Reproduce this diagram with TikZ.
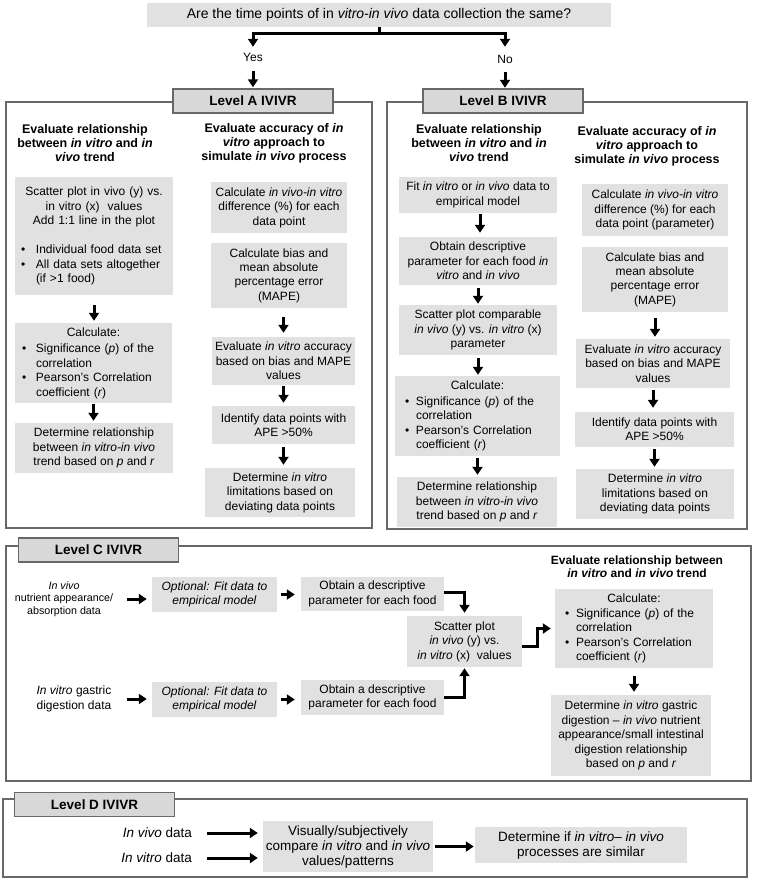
\documentclass[tikz,border=0pt]{standalone}
\usepackage{fontspec}
\setmainfont{Liberation Sans}
\usetikzlibrary{arrows.meta}
\definecolor{boxgray}{HTML}{E1E1E1}
\definecolor{titlegray}{HTML}{D8D8D8}
\definecolor{framegray}{HTML}{686868}
\newcommand{\myBody}{\fontsize{12}{14.4}\selectfont}
\newcommand{\myHead}{\bfseries\fontsize{12.5}{14}\selectfont}
\newcommand{\myHeadC}{\bfseries\fontsize{12}{13.5}\selectfont}
\newcommand{\myTitle}{\bfseries\fontsize{13.5}{16}\selectfont}
\newcommand{\myQ}{\fontsize{14}{16}\selectfont}
\newcommand{\mySmall}{\fontsize{10.7}{12.5}\selectfont}
\newcommand{\myD}{\fontsize{13.5}{15}\selectfont}
\newcommand{\myYN}{\fontsize{12}{13}\selectfont}
\newcommand{\mybul}[1][14pt]{\makebox[#1][l]{\textbullet}}
\newcommand{\myind}[1][14pt]{\hspace*{#1}}
\begin{document}
\begin{tikzpicture}[x=1pt,y=-1pt,
  box/.style={fill=boxgray, inner sep=0pt, align=center, font=\myBody},
  ttl/.style={fill=titlegray, draw=framegray, line width=1.4pt, inner sep=0pt, font=\myTitle, minimum width=160pt, minimum height=24pt},
  frm/.style={draw=framegray, line width=1.4pt},
  hd/.style={inner sep=0pt, align=center, font=\myHead},
  lbl/.style={inner sep=0pt, align=center},
  arr/.style={line width=3pt, -{Triangle[width=10pt,length=8pt]}},
]
\useasboundingbox (0,0) rectangle (756,880);

% ---------- top question ----------
\node[box, font=\myQ, minimum width=464pt, minimum height=24pt] (q) at (379,15)
  {Are the time points of in \textit{vitro-in vivo} data collection the same?};
\node[lbl, font=\myYN, text height=8.5pt, text depth=2.5pt] (yes) at (253,59) {Yes};
\node[lbl, font=\myYN, text height=8.5pt, text depth=2.5pt] (no) at (505,61) {No};

% ---------- frames ----------
\draw[frm] (6,102) rectangle (372,528);
\draw[frm] (387,102) rectangle (747,529);
\draw[frm] (6,546) rectangle (751,781);
\draw[frm] (3,799) rectangle (747,877);

\node[ttl] (ta) at (253,101) {Level A IVIVR};
\node[ttl] (tb) at (503,101) {Level B IVIVR};
\node[ttl] (tc) at (98.5,550) {Level C IVIVR};
\node[ttl] (td) at (94.5,804.5) {Level D IVIVR};

% ---------- branch ----------
\draw[arr, shorten >=6.5pt] (q.south) -- ++(0,6) -| (yes.north);
\draw[arr, shorten >=8.5pt] (q.south) -- ++(0,6) -| (no.north);
\draw[arr, shorten <=6pt, shorten >=1pt] (yes.south) -- (yes.south |- ta.north);
\draw[arr, shorten <=5pt, shorten >=0.5pt] (no.south) -- (no.south |- tb.north);

% ---------- Level A ----------
\node[hd] (ha1) at (85,143) {Evaluate relationship\\between \textit{in vitro} and \textit{in}\\\textit{vivo} trend};
\node[hd] (ha2) at (274,143) {Evaluate accuracy of \textit{in}\\\textit{vitro} approach to\\simulate \textit{in vivo} process};

\node[box, minimum width=158pt, minimum height=118pt, text width=158pt] (a1) at (94,236)
  {Scatter plot in vivo (y) vs.\\ in vitro (x)~ values\\ Add 1:1 line in the plot\par\vspace{15pt}
   {\raggedright\leftskip=6pt\relax
   \mybul[15pt]Individual food data set\\
   \mybul[15pt]All data sets altogether\\
   \myind[15pt](if >1 food)\par}\vspace{10pt}};
\node[box, minimum width=157pt, minimum height=80pt, text width=157pt] (a2) at (93.5,363)
  {Calculate:\par\vspace{2.5pt}
   {\raggedright\leftskip=7pt\relax
   \mybul Significance (\textit{p}) of the\\
   \myind correlation\\
   \mybul Pearson’s Correlation\\
   \myind coefficient (\textit{r})\par}};
\node[box, minimum width=158pt, minimum height=50pt] (a3) at (94,448)
  {Determine relationship\\between \textit{in vitro-in vivo}\\trend based on \textit{p} and \textit{r}};

\node[box, minimum width=136pt, minimum height=51pt] (ar1) at (279,207.5)
  {Calculate \textit{in vivo-in vitro}\\difference (\%) for each\\data point};
\node[box, minimum width=136pt, minimum height=65pt] (ar2) at (279,275.5)
  {Calculate bias and\\mean absolute\\percentage error\\(MAPE)};
\node[box, minimum width=143pt, minimum height=48pt] (ar3) at (283.5,361)
  {Evaluate \textit{in vitro} accuracy\\based on bias and MAPE\\values};
\node[box, minimum width=143pt, minimum height=38pt] (ar4) at (283.5,425)
  {Identify data points with\\APE >50\%};
\node[box, minimum width=150pt, minimum height=49pt] (ar5) at (280,492.5)
  {Determine \textit{in vitro}\\limitations based on\\deviating data points};

\draw[arr, shorten <=10pt, shorten >=2pt] (a1.south) -- (a1.south |- a2.north);
\draw[arr, shorten <=1pt, shorten >=2pt] (a2.south) -- (a2.south |- a3.north);
\draw[arr, shorten <=9pt, shorten >=4pt] (ar3.north |- ar2.south) -- (ar3.north);
\draw[arr, shorten <=1pt, shorten >=3pt] (ar3.south) -- (ar3.south |- ar4.north);
\draw[arr, shorten <=3pt, shorten >=3pt] (ar4.south) -- (ar4.south |- ar5.north);

% ---------- Level B ----------
\node[hd] (hb1) at (479,143) {Evaluate relationship\\between \textit{in vitro} and \textit{in}\\\textit{vivo} trend};
\node[hd] (hb2) at (647,146) {Evaluate accuracy of \textit{in}\\\textit{vitro} approach to\\simulate \textit{in vivo} process};

\node[box, minimum width=158pt, minimum height=36pt] (b1) at (478,195)
  {Fit \textit{in vitro} or \textit{in vivo} data to\\empirical model};
\node[box, minimum width=158pt, minimum height=48pt] (b2) at (478,261)
  {Obtain descriptive\\parameter for each food \textit{in}\\\textit{vitro} and \textit{in vivo}};
\node[box, minimum width=158pt, minimum height=50pt] (b3) at (478,330)
  {Scatter plot comparable\\\textit{in vivo} (y) vs. \textit{in vitro} (x)\\parameter};
\node[box, minimum width=165pt, minimum height=80pt, text width=165pt] (b4) at (477.5,416)
  {Calculate:\par\vspace{1.5pt}
   {\raggedright\leftskip=10pt\relax
   \mybul[11pt]Significance (\textit{p}) of the\\
   \myind[11pt]correlation\\
   \mybul[11pt]Pearson’s Correlation\\
   \myind[11pt]coefficient (\textit{r})\par}};
\node[box, minimum width=160pt, minimum height=50pt] (b5) at (477,502)
  {Determine relationship\\between \textit{in vitro-in vivo}\\trend based on \textit{p} and \textit{r}};

\node[box, minimum width=146pt, minimum height=52pt] (br1) at (655,210)
  {Calculate \textit{in vivo-in vitro}\\difference (\%) for each\\data point (parameter)};
\node[box, minimum width=146pt, minimum height=65pt] (br2) at (655,279.5)
  {Calculate bias and\\mean absolute\\percentage error\\(MAPE)};
\node[box, minimum width=154pt, minimum height=49pt] (br3) at (653,363.5)
  {Evaluate \textit{in vitro} accuracy\\based on bias and MAPE\\values};
\node[box, minimum width=159pt, minimum height=35pt] (br4) at (654.5,429.5)
  {Identify data points with\\APE >50\%};
\node[box, minimum width=158pt, minimum height=50pt] (br5) at (655,494)
  {Determine \textit{in vitro}\\limitations based on\\deviating data points};

\draw[arr, shorten <=1pt, shorten >=4pt] ([xshift=2pt]b1.south) -- ([xshift=2pt]b1.south |- b2.north);
\draw[arr, shorten <=3pt, shorten >=1pt] (b2.south) -- (b2.south |- b3.north);
\draw[arr, shorten <=3pt, shorten >=1pt] (b3.south) -- (b3.south |- b4.north);
\draw[arr, shorten <=2pt, shorten >=2pt] (b4.south) -- (b4.south |- b5.north);
\draw[arr, shorten <=6pt, shorten >=2pt] (br2.south) -- (br2.south |- br3.north);
\draw[arr, shorten <=2pt, shorten >=4pt] (br3.south) -- (br3.south |- br4.north);
\draw[arr, shorten <=2pt, shorten >=2pt] (br4.south) -- (br4.south |- br5.north);

% ---------- Level C ----------
\node[lbl, font=\mySmall] (cin1) at (64,599) {\textit{In vivo}\\nutrient appearance/\\absorption data};
\node[lbl, font=\myBody] (cin2) at (74,699) {\textit{In vitro} gastric\\digestion data};

\node[box, minimum width=125pt, minimum height=35pt] (c1) at (214.5,594.5)
  {\textit{Optional: Fit data to}\\\textit{empirical model}};
\node[box, minimum width=143pt, minimum height=34pt] (c2) at (372.5,594)
  {Obtain a descriptive\\parameter for each food};
\node[box, minimum width=125pt, minimum height=35pt] (c3) at (214.5,699.5)
  {\textit{Optional: Fit data to}\\\textit{empirical model}};
\node[box, minimum width=143pt, minimum height=35pt] (c4) at (372.5,697.5)
  {Obtain a descriptive\\parameter for each food};
\node[box, minimum width=115pt, minimum height=51pt] (cs) at (464.5,641.5)
  {Scatter plot\\\textit{in vivo} (y) vs.\\\textit{in vitro} (x)~ values};

\node[hd, font=\myHeadC] (hc) at (637,566.5) {Evaluate relationship between\\\textit{in vitro} and \textit{in vivo} trend};
\node[box, minimum width=158pt, minimum height=79pt, text width=158pt] (cc) at (634,628.5)
  {Calculate:\par\vspace{0.5pt}
   {\raggedright\leftskip=10pt\relax
   \mybul[11pt]Significance (\textit{p}) of the\\
   \myind[11pt]correlation\\
   \mybul[11pt]Pearson’s Correlation\\
   \myind[11pt]coefficient (\textit{r})\par}};
\node[box, minimum width=160pt, minimum height=81pt] (cd) at (631,735.5)
  {Determine \textit{in vitro} gastric\\digestion – \textit{in vivo} nutrient\\appearance/small intestinal\\digestion relationship\\based on \textit{p} and \textit{r}};

\draw[arr, shorten <=14pt, shorten >=5pt] (cin1.east) -- (cin1.east -| c1.west);
\draw[arr, shorten <=15pt, shorten >=5pt] (cin2.east) -- (cin2.east -| c3.west);
\draw[arr, shorten <=4pt, shorten >=6pt] (c1.east) -- (c1.east -| c2.west);
\draw[arr, shorten <=4pt, shorten >=6pt] (c3.east) -- (c3.east -| c4.west);
\draw[arr, shorten >=3pt] ([yshift=2pt]c2.east) -| (cs.north);
\draw[arr, shorten >=1pt] (c4.east) -| (cs.south);
\draw[arr, shorten >=4pt] ([yshift=-5pt]cs.east) -- ++(15,0) |- (cc.west);
\draw[arr, shorten <=8pt, shorten >=3pt] (cc.south) -- (cc.south |- cd.north);

% ---------- Level D ----------
\node[lbl, font=\myD, anchor=east] (din1) at (192,833) {\textit{In vivo} data};
\node[lbl, font=\myD, anchor=east] (din2) at (192,858) {\textit{In vitro} data};
\node[box, font=\myD, minimum width=170pt, minimum height=51pt] (d1) at (348,846.5)
  {Visually/subjectively\\compare \textit{in vitro} and \textit{in vivo}\\values/patterns};
\node[box, font=\myD, minimum width=212pt, minimum height=36pt] (d2) at (581,845)
  {Determine if \textit{in vitro}– \textit{in vivo}\\processes are similar};

\draw[arr, shorten <=15pt, shorten >=5pt] (din1.east) -- (din1.east -| d1.west);
\draw[arr, shorten <=15pt, shorten >=5pt] (din2.east) -- (din2.east -| d1.west);
\draw[arr, shorten <=2pt, shorten >=1pt] (d1.east) -- (d1.east -| d2.west);
\end{tikzpicture}
\end{document}
